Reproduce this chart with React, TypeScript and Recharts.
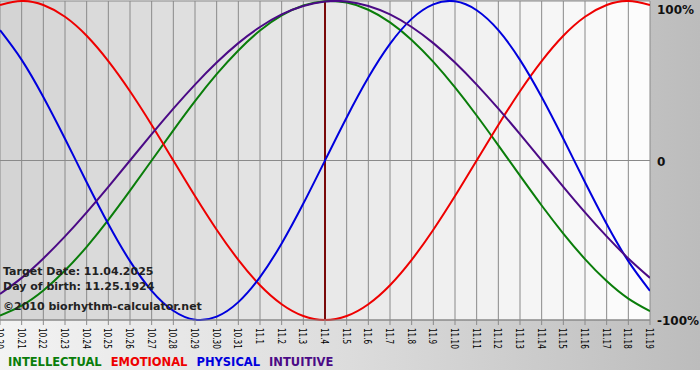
import React from 'react';
import { LineChart, Line, XAxis, YAxis, CartesianGrid, ReferenceLine } from 'recharts';

const dates = [
  '10.20', '10.21', '10.22', '10.23', '10.24', '10.25', '10.26', '10.27', '10.28', '10.29', '10.30', '10.31',
  '11.1', '11.2', '11.3', '11.4', '11.5', '11.6', '11.7', '11.8', '11.9', '11.10', '11.11', '11.12', '11.13',
  '11.14', '11.15', '11.16', '11.17', '11.18', '11.19',
];

const intellectual = [
  -97.2, -91.0, -81.5, -69.0, -54.1, -37.2, -18.9, 0, 18.9, 37.2, 54.1, 69.0, 81.5, 91.0, 97.2, 99.9,
  99.0, 94.5, 86.6, 75.6, 61.8, 45.8, 28.2, 9.5, -9.5, -28.2, -45.8, -61.8, -75.6, -86.6, -94.5,
];
const emotional = [
  97.5, 100, 97.5, 90.1, 78.2, 62.3, 43.4, 22.3, 0, -22.3, -43.4, -62.3, -78.2, -90.1, -97.5, -100,
  -97.5, -90.1, -78.2, -62.3, -43.4, -22.3, 0, 22.3, 43.4, 62.3, 78.2, 90.1, 97.5, 100, 97.5,
];
const physical = [
  81.7, 63.1, 39.8, 13.6, -13.6, -39.8, -63.1, -81.7, -94.2, -99.8, -97.9, -88.8, -73.1, -52.0, -27.0, 0,
  27.0, 52.0, 73.1, 88.8, 97.9, 99.8, 94.2, 81.7, 63.1, 39.8, 13.6, -13.6, -39.8, -63.1, -81.7,
];
const intuitive = [
  -83.7, -73.6, -61.4, -47.6, -32.5, -16.5, 0, 16.5, 32.5, 47.6, 61.4, 73.6, 83.7, 91.6, 96.9, 99.7,
  99.7, 96.9, 91.6, 83.7, 73.6, 61.4, 47.6, 32.5, 16.5, 0, -16.5, -32.5, -47.6, -61.4, -73.6,
];

const yTicks = [-100, 0, 100];
const yTickLabels = ['-100%', '0', '100%'];
const targetIndex = 15;
const targetDate = '11.04.2025';
const birthDate = '11.25.1924';
const copyright = '©2010 biorhythm-calculator.net';

const seriesNames = ['INTELLECTUAL', 'EMOTIONAL', 'PHYSICAL', 'INTUITIVE'];
const seriesKeys = ['intellectual', 'emotional', 'physical', 'intuitive'];
const seriesColors = ['#0a7d0a', '#ee0000', '#0000dd', '#4b0a86'];

const data = dates.map((d, i) => ({
  i,
  date: d,
  intellectual: intellectual[i],
  emotional: emotional[i],
  physical: physical[i],
  intuitive: intuitive[i],
}));

const xTickValues = dates.map((_, i) => i);

// day stripes: darker on the left, lighter on the right
const stripeFills = dates.slice(0, dates.length - 1).map((_, i) => {
  const v = Math.round(212 + (i / (dates.length - 2)) * 40);
  return `rgb(${v},${v},${v})`;
});

const FONT = '"DejaVu Sans", Verdana, sans-serif';

const XTick = (props: any) => {
  const { x, y, payload } = props;
  return (
    <text
      x={0}
      y={0}
      transform={`translate(${x},${y + 1}) rotate(90) scale(0.66,1)`}
      textAnchor="start"
      dominantBaseline="central"
      fontFamily={FONT}
      fontSize={11}
      fill="#000"
    >
      {dates[payload.value]}
    </text>
  );
};

const YTick = (props: any) => {
  const { y, payload } = props;
  const idx = yTicks.indexOf(payload.value);
  return (
    <text
      x={657}
      y={Math.max(y + 1, 8)}
      textAnchor="start"
      dominantBaseline="central"
      fontFamily={FONT}
      fontWeight="bold"
      fontSize={12}
      fill="#111"
    >
      {yTickLabels[idx]}
    </text>
  );
};

const noteStyle: React.CSSProperties = {
  position: 'absolute',
  left: 3,
  fontFamily: FONT,
  fontWeight: 'bold',
  fontSize: 11,
  lineHeight: '13px',
  color: '#222',
  whiteSpace: 'nowrap',
  pointerEvents: 'none',
};

export default function App() {
  return (
    <div style={{ position: 'absolute', left: 0, top: 0, width: 700, height: 380, background: '#fff' }}>
      <div
        style={{
          position: 'absolute',
          left: 0,
          top: 0,
          width: 700,
          height: 370,
          background: 'linear-gradient(to right, #f3f3f3 0%, #dcdcdc 50%, #bcbcbc 100%)',
        }}
      />
      <div style={{ position: 'absolute', left: 0, top: 0 }}>
        <LineChart width={700} height={380} data={data} margin={{ top: 1, right: 0, bottom: 5, left: 0 }}>
          <CartesianGrid
            stroke="#8a8a8a"
            strokeWidth={1}
            verticalFill={stripeFills}
            fillOpacity={1}
          />
          <XAxis
            dataKey="i"
            type="number"
            domain={[0, dates.length - 1]}
            ticks={xTickValues}
            interval={0}
            height={55}
            tick={<XTick />}
            tickLine={{ stroke: '#8a8a8a' }}
            tickSize={5}
            axisLine={{ stroke: '#8a8a8a' }}
            allowDataOverflow
          />
          <YAxis
            orientation="right"
            type="number"
            domain={[-100, 100]}
            ticks={yTicks}
            width={50}
            tick={<YTick />}
            tickLine={false}
            axisLine={false}
          />
          <ReferenceLine x={targetIndex} stroke="#7a0a0a" strokeWidth={2} />
          {seriesKeys.map((k, j) => (
            <Line
              key={k}
              type="natural"
              dataKey={k}
              stroke={seriesColors[j]}
              strokeWidth={2}
              dot={false}
              activeDot={false}
              isAnimationActive={false}
            />
          ))}
        </LineChart>
      </div>
      <div style={{ ...noteStyle, top: 265 }}>Target Date: {targetDate}</div>
      <div style={{ ...noteStyle, top: 280 }}>Day of birth: {birthDate}</div>
      <div style={{ ...noteStyle, top: 300 }}>{copyright}</div>
      <div
        style={{
          position: 'absolute',
          left: 8,
          top: 355,
          display: 'flex',
          fontFamily: FONT,
          fontWeight: 'bold',
          fontSize: 11.5,
          lineHeight: '14px',
          whiteSpace: 'nowrap',
        }}
      >
        {seriesNames.map((n, j) => (
          <span key={n} style={{ color: seriesColors[j], marginRight: 9 }}>
            {n}
          </span>
        ))}
      </div>
    </div>
  );
}
